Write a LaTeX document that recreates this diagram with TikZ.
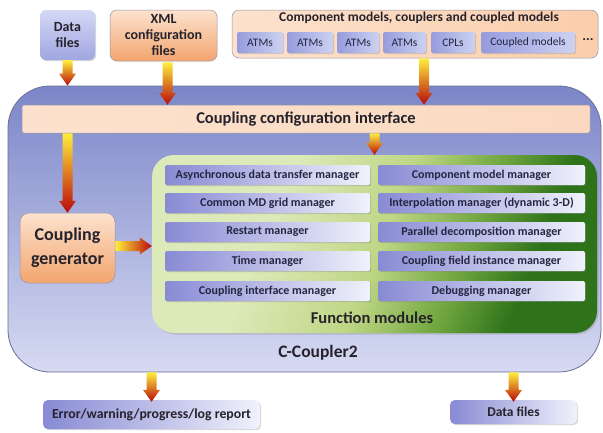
\documentclass[tikz,border=0pt]{standalone}
\usepackage{fontspec}
\setmainfont{Carlito}
\usetikzlibrary{calc,shadows}
\definecolor{txt}{RGB}{38,34,44}
\definecolor{bartxt}{RGB}{36,38,66}
\definecolor{bandblue}{RGB}{124,134,200}
\definecolor{bigfill}{RGB}{176,182,231}
\definecolor{biglight}{RGB}{214,218,242}
\definecolor{bigborder}{RGB}{105,110,150}
\definecolor{peach}{RGB}{252,226,206}
\definecolor{peachmid}{RGB}{250,206,172}
\definecolor{orng}{RGB}{243,165,110}
\definecolor{barblue}{RGB}{136,138,212}
\definecolor{barwhite}{RGB}{240,242,252}
\definecolor{subdark}{RGB}{150,156,220}
\definecolor{sublight}{RGB}{205,210,242}
\definecolor{glight}{RGB}{220,233,184}
\definecolor{glight2}{RGB}{190,214,132}
\definecolor{gmid}{RGB}{112,166,62}
\definecolor{gdark}{RGB}{46,114,26}
\definecolor{boxborder}{RGB}{150,148,165}
\definecolor{ayellow}{RGB}{255,238,60}
\definecolor{aorange}{RGB}{245,130,30}
\definecolor{ared}{RGB}{185,10,10}
\definecolor{bluetop}{RGB}{212,216,246}
\definecolor{bluebot}{RGB}{160,166,224}
\pgfdeclarehorizontalshading{greensh}{100bp}{color(0bp)=(glight); color(36bp)=(glight); color(51bp)=(glight2); color(62bp)=(gmid); color(71bp)=(gdark); color(100bp)=(gdark)}
\newcommand\blkdown[2]{\shade[top color=ayellow, middle color=aorange, bottom color=ared]
  let \p1=#1, \p2=#2 in (\x1-5pt,\y1) -- (\x1+5pt,\y1) -- (\x1+5pt,\y2+12pt) -- (\x1+8.5pt,\y2+12pt)
  -- (\x1,\y2) -- (\x1-8.5pt,\y2+12pt) -- (\x1-5pt,\y2+12pt) -- cycle;}
\newcommand\blkright[2]{\shade[left color=ayellow, middle color=aorange, right color=ared]
  let \p1=#1, \p2=#2 in (\x1,\y1+5pt) -- (\x1,\y1-5pt) -- (\x2-12pt,\y1-5pt) -- (\x2-12pt,\y1-8.5pt)
  -- (\x2,\y1) -- (\x2-12pt,\y1+8.5pt) -- (\x2-12pt,\y1+5pt) -- cycle;}
\tikzset{
  lbl/.style={font=\bfseries\fontsize{14}{16}\selectfont, text=txt, align=center, inner sep=0pt},
  bar/.style={shade, left color=barblue, right color=barwhite, minimum height=20pt, inner sep=0pt,
    font=\bfseries\fontsize{12}{13}\selectfont, text=bartxt, rounded corners=2pt,
    drop shadow={shadow xshift=1.2pt, shadow yshift=-1.2pt, opacity=0.35}},
  leftbar/.style={bar, minimum width=205pt},
  rightbar/.style={bar, minimum width=207pt},
  subbox/.style={shade, left color=subdark, right color=sublight, minimum height=21pt, inner sep=0pt,
    font=\fontsize{11.5}{13}\selectfont, text=bartxt, rounded corners=2pt,
    drop shadow={shadow xshift=1pt, shadow yshift=-1pt, opacity=0.3}},
  orangebox/.style={shade, top color=peach, bottom color=orng, draw=boxborder, line width=0.5pt,
    rounded corners=7pt, inner sep=0pt},
  bluebox/.style={shade, top color=bluetop, bottom color=bluebot, rounded corners=6pt, inner sep=0pt,
    drop shadow={shadow xshift=1.2pt, shadow yshift=-1.2pt, opacity=0.3}},
  outbox/.style={shade, left color=barblue, right color=barwhite, rounded corners=5pt, inner sep=0pt,
    drop shadow={shadow xshift=1.2pt, shadow yshift=-1.2pt, opacity=0.3}},
}
\begin{document}
\begin{tikzpicture}[x=1pt,y=-1pt]
\fill[white] (0,0) rectangle (603,432);
\useasboundingbox (0,0) rectangle (603,432);
% big C-Coupler2 box
\node[shade, top color=bandblue, middle color=bigfill, bottom color=biglight, draw=bigborder, line width=0.8pt,
  rounded corners=42pt, minimum width=593pt, minimum height=286pt, inner sep=0pt] (big) at (304.5,229) {};
% top inputs
\node[bluebox, lbl, minimum width=55pt, minimum height=50pt] (datatop) at (67.5,35) {Data\\files};
\node[orangebox, lbl, minimum width=107pt, minimum height=51pt] (xml) at (163.5,35.5) {XML\\configuration\\files};
\node[shade, left color=peach, right color=peachmid, draw=boxborder, line width=0.5pt, rounded corners=7pt,
  minimum width=366pt, minimum height=48pt, inner sep=0pt] (comp) at (415,34) {};
\node[lbl, font=\bfseries\fontsize{13.5}{15}\selectfont] (comptitle) at (419,18) {Component models, couplers and coupled models};
\node[subbox, minimum width=46pt] (a1) at (260,42.5) {ATMs};
\node[subbox, minimum width=46pt] (a2) at (310,42.5) {ATMs};
\node[subbox, minimum width=42pt] (a3) at (358,42.5) {ATMs};
\node[subbox, minimum width=43pt] (a4) at (404.5,42.5) {ATMs};
\node[subbox, minimum width=44pt] (cpl) at (453,42.5) {CPLs};
\node[subbox, minimum width=94pt] (cm) at (528,42.5) {Coupled models};
\node[lbl] (dots) at (588,40) {...};
% coupling configuration interface
\node[shade, left color=peach, middle color=orng!65!peach, right color=peach!85!orng, draw=boxborder, line width=0.5pt,
  rounded corners=2pt, minimum width=568pt, minimum height=28pt, inner sep=0pt,
  font=\bfseries\fontsize{16.5}{18}\selectfont, text=txt] (cci) at (306,119) {Coupling configuration interface};
% coupling generator
\node[orangebox, rounded corners=9pt, minimum width=95pt, minimum height=70pt,
  font=\bfseries\fontsize{18}{24}\selectfont, text=txt, align=center] (gen) at (67.5,248) {Coupling\\generator};
% function modules
\node[shade, shading=greensh, shading angle=-22,
  rounded corners=22pt, minimum width=445pt, minimum height=178pt, inner sep=0pt,
  drop shadow={shadow xshift=1.5pt, shadow yshift=-1.5pt, opacity=0.3}] (green) at (374.5,244) {};
\node[leftbar] (m1) at (267.5,175) {Asynchronous data transfer manager};
\node[leftbar] (m2) at (267.5,203) {Common MD grid manager};
\node[leftbar] (m3) at (267.5,232) {Restart manager};
\node[leftbar] (m4) at (267.5,261) {Time manager};
\node[leftbar] (m5) at (267.5,291) {Coupling interface manager};
\node[rightbar] (n1) at (481.5,175) {Component model manager};
\node[rightbar] (n2) at (481.5,203) {Interpolation manager (dynamic 3-D)};
\node[rightbar] (n3) at (481.5,232) {Parallel decomposition manager};
\node[rightbar] (n4) at (481.5,261) {Coupling field instance manager};
\node[rightbar] (n5) at (481.5,291) {Debugging manager};
\node[lbl, font=\bfseries\fontsize{16.5}{18}\selectfont] (fm) at (372,318) {Function modules};
\node[lbl, font=\bfseries\fontsize{17.5}{20}\selectfont] (cc2) at (318,353) {C-Coupler2};
% outputs
\node[outbox, lbl, font=\bfseries\fontsize{13.8}{16}\selectfont, minimum width=217pt, minimum height=29pt] (err) at (151.5,414.5) {Error/warning/progress/log report};
\node[outbox, lbl, font=\bfseries\fontsize{13.5}{16}\selectfont, minimum width=127pt, minimum height=24pt] (datab) at (513.5,412) {Data files};
% arrows
\blkdown{(datatop.south)}{(datatop.south |- big.north)}
\blkdown{([xshift=4pt,yshift=-1pt]xml.south)}{([xshift=4pt]xml.south |- cci.north)}
\blkdown{([xshift=9pt]comp.south)}{([xshift=9pt]comp.south |- cci.north)}
\blkdown{(cci.south -| green.north)}{(green.north)}
\blkdown{(cci.south -| gen.north)}{(gen.north)}
\blkright{([yshift=2pt]gen.east)}{([yshift=2pt]gen.east -| green.west)}
\blkdown{(err.north |- big.south)}{([yshift=-2pt]err.north)}
\blkdown{(datab.north |- big.south)}{([yshift=-2pt]datab.north)}
\end{tikzpicture}
\end{document}
